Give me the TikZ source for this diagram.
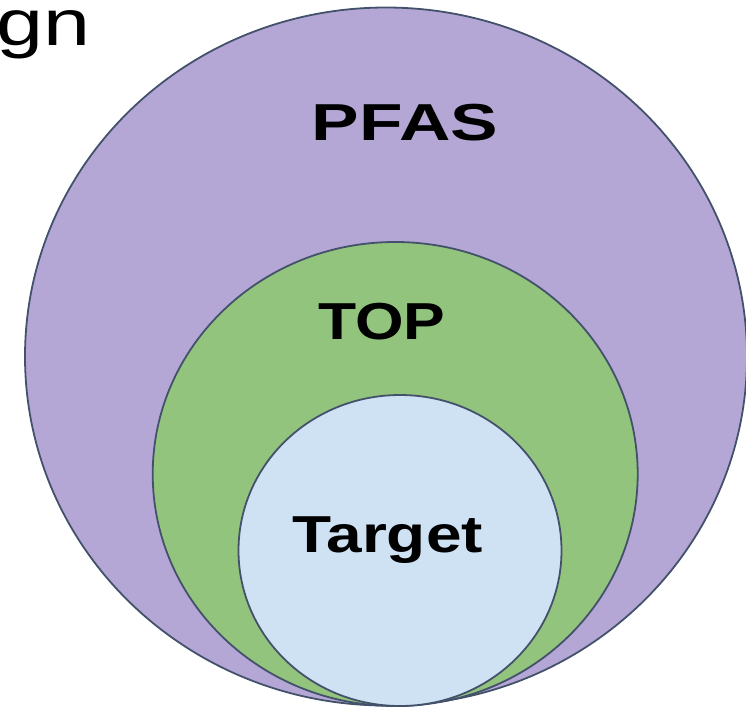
\documentclass[tikz,border=0pt]{standalone}
\usepackage{fontspec}
\setmainfont{Liberation Sans}
\usetikzlibrary{shapes.geometric}
\definecolor{rimcol}{HTML}{44516B}
\definecolor{pfasfill}{HTML}{B4A7D6}
\definecolor{topfill}{HTML}{93C47D}
\definecolor{targetfill}{HTML}{CFE2F3}
\tikzset{
  setbox/.style={ellipse, draw=rimcol, line width=1.8pt, inner sep=0pt},
  setlabel/.style={font=\fontsize{52}{52}\selectfont\bfseries, inner sep=0pt, anchor=base},
}
\begin{document}
\begin{tikzpicture}[x=1pt,y=-1pt]
  \useasboundingbox (0,0) rectangle (746,707);
  \clip (0,0) rectangle (746,707);
  % title fragment
  \node[font=\fontsize{65}{65}\selectfont, inner sep=0pt, anchor=base east, xscale=1.3] (title) at (91,45) {gn};
  % nested sets
  \node[setbox, fill=pfasfill, minimum width=722pt, minimum height=698pt] (pfas) at (386,356.5) {};
  \node[setbox, fill=topfill, minimum width=485pt, minimum height=464pt] (top) at (395.2,474) {};
  \node[setbox, fill=targetfill, minimum width=323pt, minimum height=311pt] (target) at (400,550.5) {};
  % set names
  \node[setlabel, xscale=1.37] (pfaslbl) at (405,140) {PFAS};
  \node[setlabel, xscale=1.2] (toplbl) at (382,339) {TOP};
  \node[setlabel, xscale=1.23] (targetlbl) at (387.5,552) {Target};
\end{tikzpicture}
\end{document}
